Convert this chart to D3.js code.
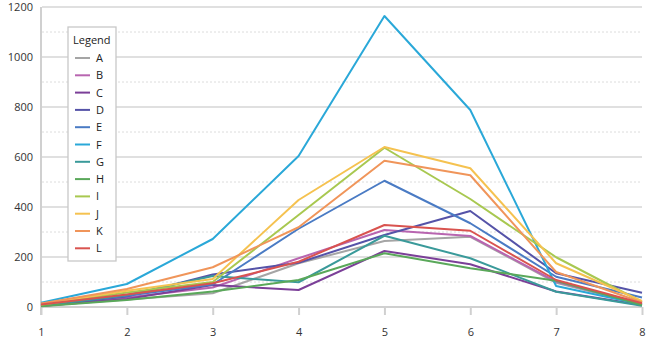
<!DOCTYPE html>
<html><head><meta charset="utf-8">
<script src="https://cdn.jsdelivr.net/npm/d3@7"></script>
<style>body{margin:0;background:#fff;font-family:"Open Sans",sans-serif;}</style>
</head><body><svg id="c" width="653" height="341"></svg>
<script>
const categories = [1,2,3,4,5,6,7,8];
const seriesNames = ["A","B","C","D","E","F","G","H","I","J","K","L"];
const seriesColors = ["#a5a5a5","#b865b0","#7b3f98","#5553a8","#4a7bc4","#2aa8d8","#3a9a9a","#5aa85a","#a8c850","#f5c250","#f0955a","#d9534f"];
const A = [5,30,55,175,264,281,97,10];
const B = [6,38,78,195,308,284,101,12];
const C = [4,32,88,68,224,171,62,8];
const D = [7,42,130,177,288,384,135,57];
const E = [8,45,90,313,505,335,121,38];
const F = [17,92,272,604,1164,788,84,10];
const G = [5,48,124,99,285,195,61,5];
const H = [3,28,62,108,215,155,105,8];
const I = [9,58,100,368,637,432,199,20];
const J = [12,65,112,428,640,555,175,24];
const K = [14,72,159,319,585,527,140,18];
const L = [10,50,95,181,328,305,108,15];
const seriesValues = [A,B,C,D,E,F,G,H,I,J,K,L];
const yTicks = [0,200,400,600,800,1000,1200];
const yMinor = [100,300,500,700,900,1100];

const svg = d3.select("#c");
const x = d3.scaleLinear().domain([1,8]).range([41,642]);
const y = d3.scaleLinear().domain([0,1200]).range([307,7]);

// minor dotted gridlines
svg.append("g").selectAll("line").data(yMinor).join("line")
  .attr("x1",42).attr("x2",642).attr("y1",d=>y(d)).attr("y2",d=>y(d))
  .attr("stroke","#dcdcdc").attr("stroke-width",1).attr("stroke-dasharray","2,2");
// major gridlines
svg.append("g").selectAll("line").data(yTicks.filter(d=>d>0)).join("line")
  .attr("x1",42).attr("x2",642).attr("y1",d=>y(d)).attr("y2",d=>y(d))
  .attr("stroke","#d6d6d6").attr("stroke-width",1.3);

// y axis
const yAxis = svg.append("g").attr("transform","translate(41,0)")
  .call(d3.axisLeft(y).tickValues(yTicks).tickFormat(d3.format("d")).tickSize(0).tickPadding(8));
yAxis.select(".domain").attr("stroke","#d0d0d0").attr("stroke-width",2).attr("d","M0,7V315");
yAxis.selectAll("text").attr("font-family","Open Sans, sans-serif").attr("font-size",11).attr("fill","#333");

// x axis
const xAxis = svg.append("g").attr("transform","translate(0,307)")
  .call(d3.axisBottom(x).tickValues(categories).tickFormat(d3.format("d")).tickSize(8).tickPadding(13));
xAxis.select(".domain").attr("stroke","#d0d0d0").attr("stroke-width",2).attr("d","M41,0H642");
xAxis.selectAll(".tick line").attr("stroke","#d0d0d0").attr("stroke-width",2);
xAxis.selectAll("text").attr("font-family","Open Sans, sans-serif").attr("font-size",11).attr("fill","#333");

// lines
const line = d3.line().x((d,i)=>x(categories[i])).y(d=>y(d));
svg.append("g").selectAll("path").data(seriesValues).join("path")
  .attr("d",d=>line(d)).attr("fill","none")
  .attr("stroke",(d,i)=>seriesColors[i]).attr("stroke-width",2)
  .attr("stroke-linejoin","round");

// legend
const lg = svg.append("g");
lg.append("rect").attr("x",68).attr("y",27).attr("width",48).attr("height",234)
  .attr("fill","#fff").attr("stroke","#c8c8c8").attr("stroke-width",1.3);
lg.append("text").attr("x",73).attr("y",44).text("Legend")
  .attr("font-size",11).attr("fill","#222").attr("font-family","Open Sans, sans-serif");
const items = lg.selectAll("g.item").data(seriesNames).join("g").attr("class","item")
  .attr("transform",(d,i)=>`translate(0,${58+i*17.3})`);
items.append("line").attr("x1",75).attr("x2",90).attr("y1",0).attr("y2",0)
  .attr("stroke",(d,i)=>seriesColors[i]).attr("stroke-width",2);
items.append("text").attr("x",96).attr("y",4).text(d=>d)
  .attr("font-size",11).attr("fill","#222").attr("font-family","Open Sans, sans-serif");
</script></body></html>
